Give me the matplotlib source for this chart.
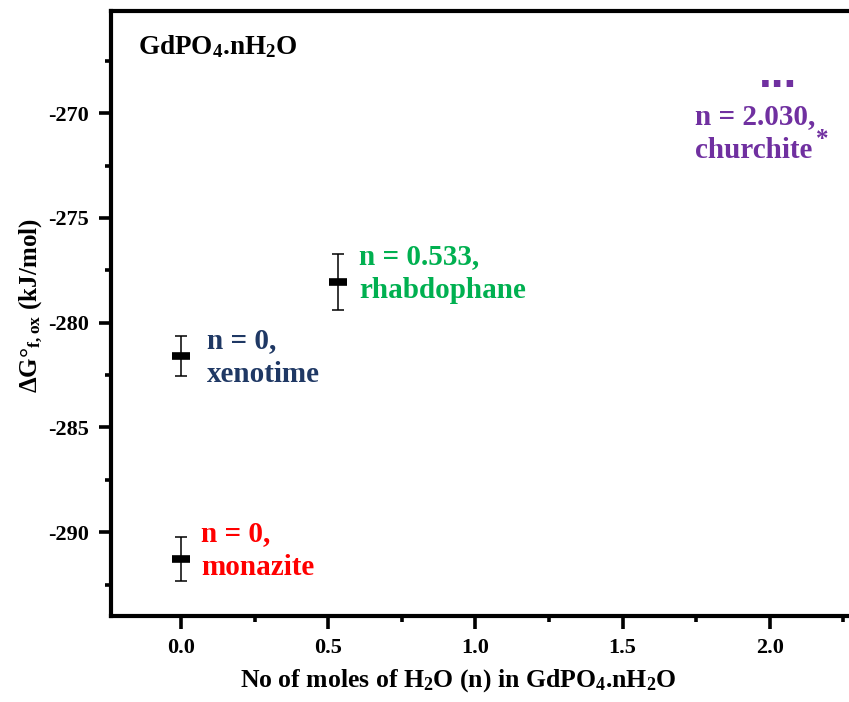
import matplotlib
matplotlib.use("Agg")
import matplotlib.pyplot as plt

# data: mineral forms of GdPO4.nH2O
n_h2o = [0.0, 0.0, 0.533]
dG_fox = [-291.3, -281.6, -278.05]
dG_err = [1.05, 0.95, 1.35]

labels = ["n = 0,\nmonazite", "n = 0,\nxenotime", "n = 0.533,\nrhabdophane", "n = 2.030,\nchurchite"]
label_x = [0.068, 0.088, 0.604, 1.745]
label_y = [-290.86, -281.65, -277.64, -270.95]
label_colors = ["#FF0000", "#1F3864", "#00B050", "#7030A0"]

plt.rcParams['font.family'] = ['Liberation Serif', 'DejaVu Serif']
plt.rcParams['font.weight'] = 'bold'
plt.rcParams['mathtext.default'] = 'regular'

fig = plt.figure(figsize=(8.49, 7.02), dpi=100)
ax = fig.add_axes([111/849, 86/702, (858-111)/849, (616-10.5)/702])

ax.errorbar(n_h2o, dG_fox, yerr=dG_err, fmt='none', ecolor='black',
            elinewidth=1.1, capsize=4, capthick=1.1, zorder=2)
ax.plot(n_h2o, dG_fox, linestyle='none', marker='_', markersize=12.5,
        markeredgewidth=5.5, color='black', zorder=3)

for txt, x, y, c in zip(labels, label_x, label_y, label_colors):
    ax.text(x, y, txt, color=c, fontsize=21, fontweight='bold', ha='left', va='center',
            linespacing=1.33)

# extra marks for churchite
ax.text(2.027, -268.75, '...', color='#7030A0', fontsize=33, fontweight='bold',
        family='Liberation Sans', ha='center', va='baseline')
ax.text(2.178, -271.25, '*', color='#7030A0', fontsize=18, fontweight='bold', ha='center', va='center')

ax.text(0.036, 0.94, 'GdPO$_4$.nH$_2$O', transform=ax.transAxes, fontsize=19.5,
        fontweight='bold', ha='left', va='center')

ax.set_xlim(-0.238, 2.3)
ax.set_ylim(-294.0, -265.1)
ax.set_xticks([0.0, 0.5, 1.0, 1.5, 2.0])
ax.set_xticks([0.25, 0.75, 1.25, 1.75, 2.25], minor=True)
ax.set_yticks([-290, -285, -280, -275, -270])
ax.set_yticks([-292.5, -287.5, -282.5, -277.5, -272.5, -267.5], minor=True)
ax.set_yticklabels(['-290', '-285', '-280', '-275', '-270'])

for s in ax.spines.values():
    s.set_linewidth(3)
ax.tick_params(which='major', length=9, width=2.6, labelsize=16, pad=7)
ax.tick_params(which='minor', length=4.5, width=2.6)

ax.set_xlabel('No of moles of H$_2$O (n) in GdPO$_4$.nH$_2$O', fontsize=18.5, fontweight='bold')
ax.set_ylabel('ΔG°$_{f,ox}$ (kJ/mol)', fontsize=18, fontweight='bold')
ax.xaxis.set_label_coords(0.4645, -0.084)
ax.yaxis.set_label_coords(-0.088, 0.513)

fig.savefig('out.png', dpi=100)
